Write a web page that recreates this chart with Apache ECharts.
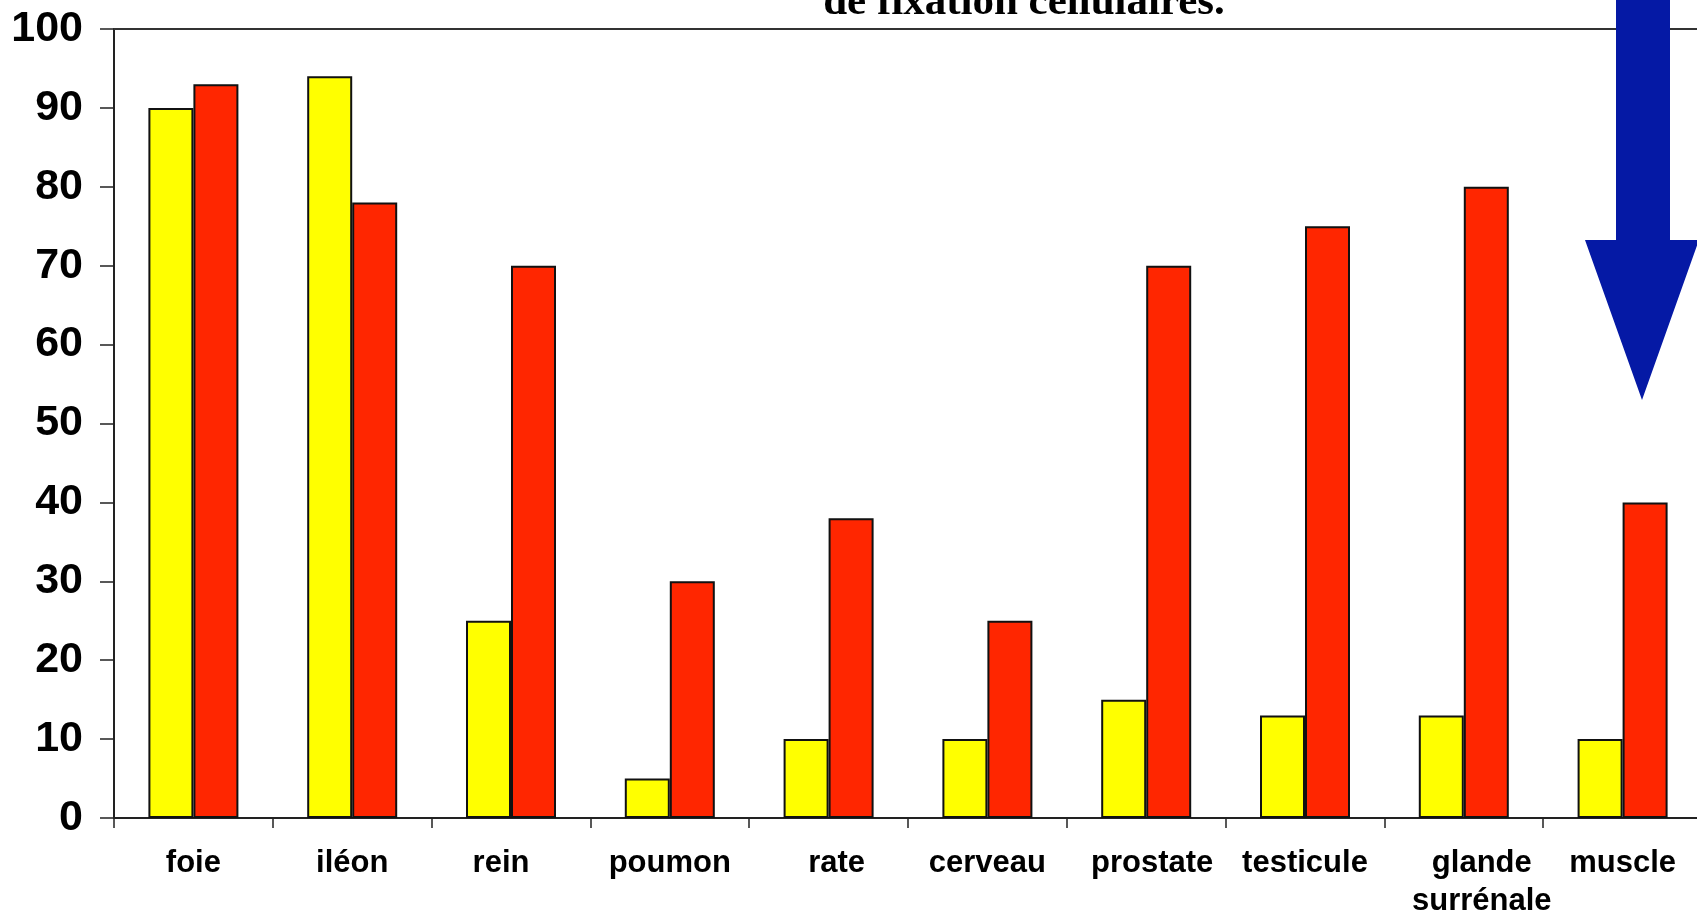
<!DOCTYPE html>
<html>
<head>
<meta charset="utf-8">
<script src="https://cdn.jsdelivr.net/npm/echarts@6/dist/echarts.min.js"></script>
<style>
  html, body { margin: 0; padding: 0; background: #ffffff; }
  #chart { width: 1697px; height: 915px; }
</style>
</head>
<body>
<div id="chart"></div>
<script>
// Organs along the x axis
const categories = ['foie', 'iléon', 'rein', 'poumon', 'rate', 'cerveau', 'prostate', 'testicule', 'glande\nsurrénale', 'muscle'];
// Yellow series
const yellowValues = [90, 94, 25, 5, 10, 10, 15, 13, 13, 10];
// Red series
const redValues = [93, 78, 70, 30, 38, 25, 70, 75, 80, 40];
// Y axis scale
const yMin = 0;
const yMax = 100;
const yStep = 10;
// Heading line, partly above the page
const headingText = 'de fixation cellulaires.';

const chart = echarts.init(document.getElementById('chart'), null, {
  renderer: 'canvas', width: 1697, height: 915
});

const sans = "'Liberation Sans', Arial, sans-serif";
const axisColor = '#222222';

// Small horizontal nudges for a few category labels (px; positive = right)
const labelNudge = { 'rein': -10, 'rate': 8, 'prostate': 6, 'glande\nsurrénale': 18 };

const xAxisData = categories.map((name) => {
  const dx = labelNudge[name] || 0;
  if (!dx) return name;
  return {
    value: name,
    textStyle: { padding: dx > 0 ? [0, 0, 0, 2 * dx] : [0, -2 * dx, 0, 0] }
  };
});

const barStyle = (color) => ({
  color: color,
  borderColor: '#111111',
  borderWidth: 2
});

chart.setOption({
  animation: false,
  backgroundColor: '#ffffff',
  grid: {
    left: 114, top: 29, bottom: 97, width: 1588,
    containLabel: false,
    outerBoundsMode: 'none'
  },
  xAxis: [
    {
      type: 'category',
      data: xAxisData,
      position: 'bottom',
      axisLine: { show: true, lineStyle: { color: axisColor, width: 2 } },
      axisTick: { show: true, length: 10, lineStyle: { color: axisColor, width: 1.5 } },
      axisLabel: {
        color: '#000000',
        fontFamily: sans,
        fontWeight: 'bold',
        fontSize: 31,
        lineHeight: 38,
        margin: 26,
        interval: 0
      },
      splitLine: { show: false }
    },
    {
      type: 'category',
      data: categories,
      position: 'top',
      axisLine: { show: true, lineStyle: { color: '#333333', width: 2 } },
      axisTick: { show: false },
      axisLabel: { show: false },
      splitLine: { show: false }
    }
  ],
  yAxis: {
    type: 'value',
    min: yMin,
    max: yMax,
    interval: yStep,
    axisLine: { show: true, lineStyle: { color: axisColor, width: 2 } },
    axisTick: { show: true, length: 14, lineStyle: { color: axisColor, width: 1.5 } },
    axisLabel: {
      color: '#000000',
      fontFamily: sans,
      fontWeight: 'bold',
      fontSize: 43,
      margin: 31
    },
    splitLine: { show: false }
  },
  series: [
    {
      type: 'bar',
      data: yellowValues,
      barWidth: 45,
      barGap: '0%',
      itemStyle: barStyle('#ffff00')
    },
    {
      type: 'bar',
      data: redValues,
      barWidth: 45,
      barGap: '0%',
      itemStyle: barStyle('#ff2600')
    }
  ],
  graphic: [
    {
      type: 'text',
      x: 1024,
      y: 3,
      style: {
        text: headingText,
        align: 'center',
        verticalAlign: 'middle',
        fontFamily: "'Liberation Serif', 'Times New Roman', serif",
        fontWeight: 'bold',
        fontSize: 43,
        fill: '#000000'
      }
    },
    {
      type: 'polygon',
      z: 100,
      shape: {
        points: [
          [1616, -5], [1670, -5], [1670, 240], [1699, 240],
          [1642, 400], [1585, 240], [1616, 240]
        ]
      },
      style: { fill: '#0519a5' }
    }
  ]
});
</script>
</body>
</html>
